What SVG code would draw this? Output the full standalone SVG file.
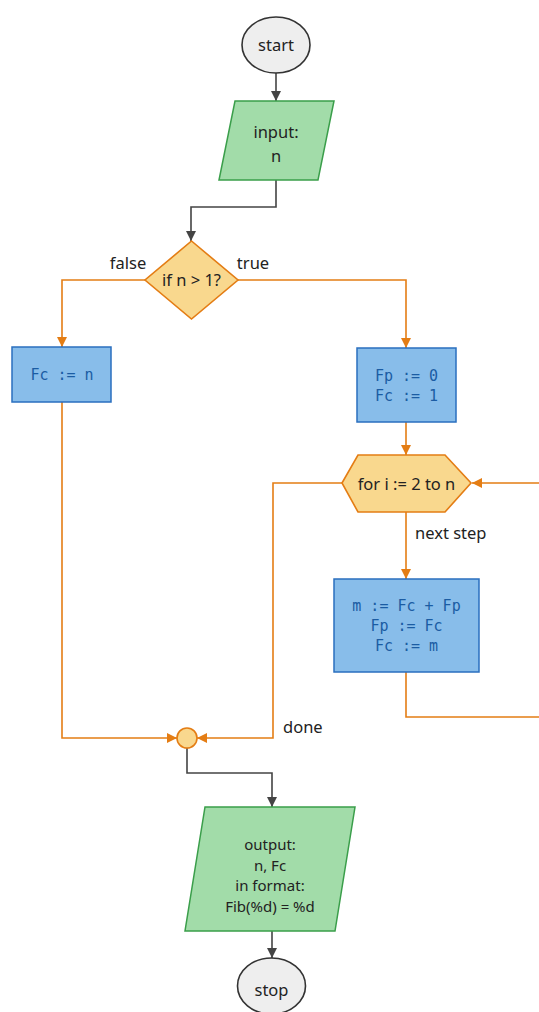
<svg xmlns="http://www.w3.org/2000/svg" width="539" height="1012" viewBox="0 0 539 1012">
<style>
.t{font-family:"Noto Sans","Open Sans",sans-serif;font-size:16.5px;fill:#222;text-anchor:middle}
.o{font-family:"Noto Sans","Open Sans",sans-serif;font-size:15px;fill:#222;text-anchor:middle}
.l{font-family:"Noto Sans","Open Sans",sans-serif;font-size:16.5px;fill:#222}
.c{font-family:"DejaVu Sans Mono","Liberation Mono",monospace;font-size:15px;fill:#1b5ca3;text-anchor:middle}
.term{fill:#eeeeee;stroke:#333;stroke-width:1.6}
.io{fill:#a2dca9;stroke:#3a9e4a;stroke-width:1.5}
.dec{fill:#f9d88e;stroke:#e47d14;stroke-width:1.6}
.proc{fill:#88bdea;stroke:#2a6fbf;stroke-width:1.5}
.dk{fill:none;stroke:#444;stroke-width:1.6}
.or{fill:none;stroke:#e47d14;stroke-width:1.6}
</style>
<defs>
<marker id="ad" viewBox="0 0 10 10" refX="10" refY="5" markerWidth="10" markerHeight="10" markerUnits="userSpaceOnUse" orient="auto"><path d="M0,0L10,5L0,10z" fill="#444"/></marker>
<marker id="ao" viewBox="0 0 10 10" refX="10" refY="5" markerWidth="10" markerHeight="10" markerUnits="userSpaceOnUse" orient="auto"><path d="M0,0L10,5L0,10z" fill="#e47d14"/></marker>
</defs>
<rect width="539" height="1012" fill="#ffffff"/>
<g id="connectors">
<path class="dk" d="M276,73V101" marker-end="url(#ad)"/>
<path class="dk" d="M276,180V207H191V241" marker-end="url(#ad)"/>
<path class="or" d="M145,280H62V347" marker-end="url(#ao)"/>
<path class="or" d="M238,280H406V348" marker-end="url(#ao)"/>
<path class="or" d="M406,422V455" marker-end="url(#ao)"/>
<path class="or" d="M406,512V579" marker-end="url(#ao)"/>
<path class="or" d="M406,672V717H545V483H472" marker-end="url(#ao)"/>
<path class="or" d="M342,483H273V738H197" marker-end="url(#ao)"/>
<path class="or" d="M62,402V738H177" marker-end="url(#ao)"/>
<path class="dk" d="M187,748V773H272V807" marker-end="url(#ad)"/>
<path class="dk" d="M272,931V958" marker-end="url(#ad)"/>
</g>
<g id="labels">
<text class="t" x="128" y="269">false</text>
<text class="t" x="253" y="269">true</text>
<text class="l" x="415" y="539">next step</text>
<text class="l" x="283" y="733">done</text>
</g>
<g id="start">
<ellipse class="term" cx="276" cy="45" rx="34" ry="28"/>
<text class="t" x="276" y="51">start</text>
</g>
<g id="input">
<polygon class="io" points="235,101 334,101 318,180 219,180"/>
<text class="t" x="276" y="138">input:</text>
<text class="t" x="276" y="162">n</text>
</g>
<g id="decision">
<polygon class="dec" points="191.5,241 238,280 191.5,319 145,280"/>
<text class="t" x="191.5" y="286">if n &gt; 1?</text>
</g>
<g id="fc_n">
<rect class="proc" x="12" y="347" width="99" height="55"/>
<text class="c" x="62" y="380">Fc := n</text>
</g>
<g id="init">
<rect class="proc" x="357" y="348" width="99" height="74"/>
<text class="c" x="406.5" y="381">Fp := 0</text>
<text class="c" x="406.5" y="401">Fc := 1</text>
</g>
<g id="loop">
<polygon class="dec" points="342,483 358,455 445,455 471,483 445,512 358,512"/>
<text class="t" x="406.5" y="490">for i := 2 to n</text>
</g>
<g id="body">
<rect class="proc" x="334" y="579" width="145" height="93"/>
<text class="c" x="406.5" y="611">m := Fc + Fp</text>
<text class="c" x="406.5" y="631">Fp := Fc</text>
<text class="c" x="406.5" y="651">Fc := m</text>
</g>
<g id="junction">
<circle cx="187" cy="738" r="10" fill="#f9d88e" stroke="#e47d14" stroke-width="1.6"/>
</g>
<g id="output">
<polygon class="io" points="205,807 355,807 335,931 185,931"/>
<text class="o" x="270" y="850">output:</text>
<text class="o" x="270" y="870.5">n, Fc</text>
<text class="o" x="270" y="891">in format:</text>
<text class="o" x="270" y="911.5">Fib(%d) = %d</text>
</g>
<g id="stop">
<ellipse class="term" cx="271.5" cy="986" rx="34" ry="28"/>
<text class="t" x="271.5" y="996">stop</text>
</g>
</svg>
